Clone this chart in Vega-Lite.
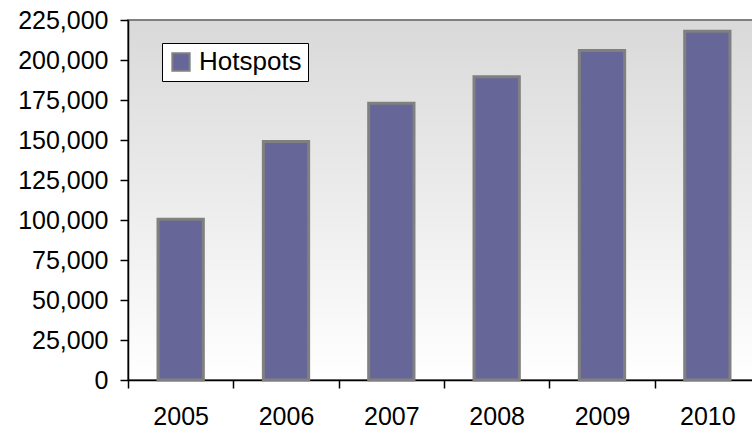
{
  "$schema": "https://vega.github.io/schema/vega-lite/v6.json",
  "autosize": {"type": "none"},
  "padding": {"left": 128, "top": 20, "right": -8, "bottom": 53},
  "width": 632,
  "height": 360,
  "background": "#ffffff",
  "config": {
    "font": "Liberation Sans",
    "view": {
      "fill": {"gradient": "linear", "x1": 0, "y1": 0, "x2": 0, "y2": 1, "stops": [{"offset": 0, "color": "#d9d9d9"}, {"offset": 1, "color": "#ffffff"}]},
      "stroke": "#808080",
      "strokeWidth": 2
    },
    "axis": {"ticks": true, "tickColor": "#000000", "tickWidth": 1.5, "tickSize": 8, "tickOpacity": 1}
  },
  "data": {
    "values": [
      {"year": "2005", "hotspots": 100500, "series": "Hotspots"},
      {"year": "2006", "hotspots": 149000, "series": "Hotspots"},
      {"year": "2007", "hotspots": 173000, "series": "Hotspots"},
      {"year": "2008", "hotspots": 189500, "series": "Hotspots"},
      {"year": "2009", "hotspots": 206000, "series": "Hotspots"},
      {"year": "2010", "hotspots": 218000, "series": "Hotspots"}
    ]
  },
  "mark": {"type": "bar", "stroke": "#808080", "strokeWidth": 3, "width": {"band": 0.43}},
  "encoding": {
    "x": {
      "field": "year", "type": "nominal",
      "scale": {"paddingInner": 0, "paddingOuter": 0},
      "axis": {"title": null, "labelAngle": 0, "labelFontSize": 25, "labelColor": "#000000", "labelPadding": 16, "tickBand": "extent", "domainColor": "#000000", "domainWidth": 1.5}
    },
    "y": {
      "field": "hotspots", "type": "quantitative",
      "scale": {"domain": [0, 225000], "nice": false},
      "axis": {"title": null, "values": [0, 25000, 50000, 75000, 100000, 125000, 150000, 175000, 200000, 225000], "format": ",.0f", "grid": false, "labelFontSize": 25, "labelColor": "#000000", "labelPadding": 12, "domainColor": "#000000", "domainWidth": 1.5}
    },
    "color": {
      "field": "series", "type": "nominal",
      "scale": {"range": ["#666699"]},
      "legend": {"title": null, "orient": "none", "legendX": 34, "legendY": 23, "fillColor": "#ffffff", "strokeColor": "#000000", "padding": 6, "symbolType": "square", "symbolSize": 300, "symbolStrokeColor": "#808080", "symbolStrokeWidth": 2, "labelFontSize": 26, "labelColor": "#000000", "labelOffset": 5, "cornerRadius": 0}
    }
  }
}
